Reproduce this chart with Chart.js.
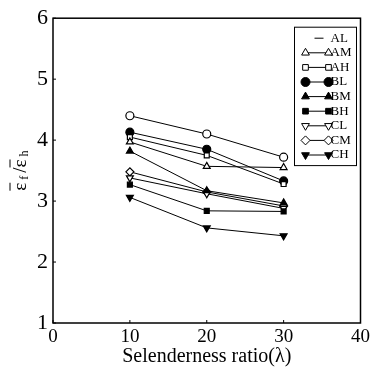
<!DOCTYPE html>
<html>
<head>
<meta charset="utf-8">
<script src="https://cdn.jsdelivr.net/npm/chart.js@4"></script>
<style>
  html, body { margin: 0; padding: 0; background: #fff; }
  #wrap { width: 373px; height: 369px; }
</style>
</head>
<body>
<div id="wrap"><canvas id="ratioChart" width="373" height="369"></canvas></div>
<script>
// slenderness ratios on the x axis
const ratios = [10, 20, 30];

// ratio of mean strains, one array per specimen group
const AL = [4.40, 4.10, 3.72];
const AM = [3.97, 3.57, 3.55];
const AH = [4.05, 3.75, 3.28];
const BL = [4.13, 3.85, 3.33];
const BM = [3.82, 3.17, 2.97];
const BH = [3.27, 2.84, 2.83];
const CL = [3.38, 3.12, 2.88];
const CM = [3.48, 3.15, 2.92];
const CH = [3.06, 2.56, 2.43];

const xTicks = [0, 10, 20, 30, 40];
const yTicks = [1, 2, 3, 4, 5, 6];

const SERIF = "'Liberation Serif', 'DejaVu Serif', serif";

function series(label, values, style, filled, rotation, showMarkerInLegend) {
    return {
        label: label,
        data: values.map((v, i) => ({ x: ratios[i], y: v })),
        borderColor: "#000",
        borderWidth: 1,
        pointStyle: style,
        pointRotation: rotation || 0,
        pointRadius: style === "rect" ? 3.5 : 4,
        pointBorderWidth: 1.2,
        pointBorderColor: "#000",
        pointBackgroundColor: filled ? "#000" : "#fff",
        legendMarker: showMarkerInLegend !== false,
        tension: 0
    };
}

const datasets = [
    series("AL", AL, "circle", false, 0, false),
    series("AM", AM, "triangle", false),
    series("AH", AH, "rect", false),
    series("BL", BL, "circle", true),
    series("BM", BM, "triangle", true),
    series("BH", BH, "rect", true),
    series("CL", CL, "triangle", false, 180),
    series("CM", CM, "rectRot", false),
    series("CH", CH, "triangle", true, 180)
];

// frame, inward ticks, y title with overbars, boxed legend
const framePlugin = {
    id: "frame",
    afterDraw(chart) {
        const ctx = chart.ctx;
        const a = chart.chartArea;
        const xs = chart.scales.x, ys = chart.scales.y;
        ctx.save();
        ctx.strokeStyle = "#000";
        ctx.lineWidth = 1.5;
        ctx.strokeRect(a.left, a.top, a.right - a.left, a.bottom - a.top);

        ctx.lineWidth = 1;
        ctx.beginPath();
        yTicks.forEach(v => {
            const py = ys.getPixelForValue(v);
            ctx.moveTo(a.left, py);
            ctx.lineTo(a.left + 3, py);
        });
        xTicks.forEach(v => {
            const px = xs.getPixelForValue(v);
            ctx.moveTo(px, a.bottom);
            ctx.lineTo(px, a.bottom - 3);
        });
        ctx.stroke();

        // y axis title: eps-bar f / eps-bar h, rotated
        ctx.save();
        ctx.translate(20, (a.top + a.bottom) / 2);
        ctx.rotate(-Math.PI / 2);
        ctx.fillStyle = "#000";
        ctx.textBaseline = "alphabetic";
        ctx.textAlign = "left";
        const parts = [
            { t: "\u03b5", s: 19, dy: 0, bar: true },
            { t: " f ", s: 12, dy: 2, bar: false },
            { t: "/", s: 19, dy: 0, bar: false },
            { t: "\u03b5", s: 19, dy: 0, bar: true },
            { t: " h", s: 12, dy: 2, bar: false }
        ];
        let total = 0;
        parts.forEach(p => {
            ctx.font = p.s + "px " + SERIF;
            p.w = ctx.measureText(p.t).width;
            total += p.w;
        });
        let cx = -total / 2;
        parts.forEach(p => {
            ctx.font = p.s + "px " + SERIF;
            ctx.fillText(p.t, cx, 6 + p.dy);
            if (p.bar) {
                ctx.beginPath();
                ctx.moveTo(cx, -10);
                ctx.lineTo(cx + p.w, -10);
                ctx.stroke();
            }
            cx += p.w;
        });
        ctx.restore();

        // legend box
        const boxL = a.right - 66, boxT = a.top + 9, rowH = 14.6;
        const boxW = 62, boxH = rowH * datasets.length + 7;
        ctx.fillStyle = "#fff";
        ctx.fillRect(boxL, boxT, boxW, boxH);
        ctx.lineWidth = 1;
        ctx.strokeRect(boxL, boxT, boxW, boxH);

        ctx.font = "13px " + SERIF;
        ctx.textBaseline = "middle";
        chart.data.datasets.forEach((ds, i) => {
            const y = boxT + 11 + i * rowH;
            const x1 = boxL + 11, x2 = boxL + 34;
            ctx.strokeStyle = "#000";
            ctx.lineWidth = 1;
            ctx.beginPath();
            if (ds.legendMarker) {
                ctx.moveTo(x1, y);
                ctx.lineTo(x2, y);
            } else {
                ctx.moveTo(x1 + 9, y);
                ctx.lineTo(x2 - 5, y);
            }
            ctx.stroke();
            if (ds.legendMarker) {
                [x1, x2].forEach(px => {
                    ctx.fillStyle = ds.pointBackgroundColor;
                    Chart.helpers.drawPoint(ctx, {
                        pointStyle: ds.pointStyle,
                        rotation: ds.pointRotation,
                        radius: ds.pointStyle === "rect" ? 4 : 4.5,
                        borderWidth: 1
                    }, px, y);
                });
            }
            ctx.fillStyle = "#000";
            ctx.textAlign = "left";
            ctx.fillText(ds.label, x2 + 2, y);
        });
        ctx.restore();
    }
};

new Chart(document.getElementById("ratioChart"), {
    type: "line",
    data: { datasets: datasets },
    options: {
        responsive: false,
        animation: false,
        layout: { padding: { left: 0, right: 12, top: 12, bottom: 0 } },
        plugins: {
            legend: { display: false },
            tooltip: { enabled: false }
        },
        scales: {
            x: {
                type: "linear",
                min: 0,
                max: 40,
                afterBuildTicks: s => { s.ticks = xTicks.map(v => ({ value: v })); },
                afterFit: s => { s.height = 46; },
                grid: { display: false, drawTicks: false },
                border: { display: false },
                ticks: {
                    color: "#000",
                    padding: 3,
                    font: { family: SERIF, size: 19 }
                },
                title: {
                    display: true,
                    text: "Selenderness ratio(\u03bb)",
                    color: "#000",
                    padding: { top: 0, bottom: 0 },
                    font: { family: SERIF, size: 20 }
                }
            },
            y: {
                min: 1,
                max: 6,
                afterBuildTicks: s => { s.ticks = yTicks.map(v => ({ value: v })); },
                afterFit: s => { s.width = 53; },
                grid: { display: false, drawTicks: false },
                border: { display: false },
                ticks: {
                    color: "#000",
                    padding: 5,
                    font: { family: SERIF, size: 22 }
                },
                title: { display: false }
            }
        }
    },
    plugins: [framePlugin]
});
</script>
</body>
</html>
